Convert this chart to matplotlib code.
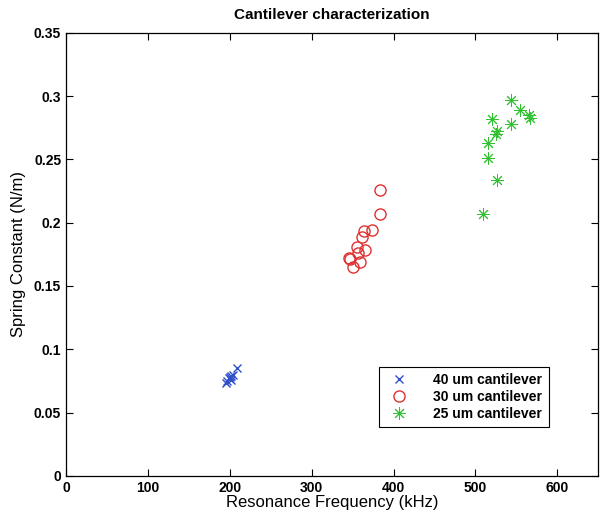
import numpy as np
import matplotlib
matplotlib.use('Agg')
import matplotlib.pyplot as plt

# resonance frequency (kHz) and spring constant (N/m)
f40 = [195, 197, 199, 200, 201, 202, 204, 209]
k40 = [0.073, 0.075, 0.077, 0.078, 0.076, 0.079, 0.080, 0.085]

f30 = [384, 384, 374, 364, 362, 355, 365, 357, 346, 347, 359, 351]
k30 = [0.226, 0.207, 0.194, 0.193, 0.189, 0.181, 0.178, 0.176, 0.172, 0.171, 0.169, 0.165]

f25 = [509, 515, 516, 520, 525, 527, 527, 543, 543, 555, 565, 567]
k25 = [0.207, 0.251, 0.263, 0.282, 0.270, 0.272, 0.234, 0.278, 0.297, 0.289, 0.285, 0.283]

labels = ['40 um cantilever', '30 um cantilever', '25 um cantilever']

plt.rcParams['font.family'] = ['Liberation Sans', 'DejaVu Sans']

fig = plt.figure(figsize=(6, 5.2), dpi=100)
ax = fig.add_axes([0.11, 0.085, 0.887, 0.852])

asterisk = (8, 2, 0)  # matlab style '*'
ax.plot(f40, k40, 'x', color='#3050c8', ms=6, mew=1, label=labels[0])
ax.plot(f30, k30, 'o', color='#e03030', mfc='none', ms=8, mew=1, label=labels[1])
ax.plot(f25, k25, marker=asterisk, ls='none', color='#30c030', ms=9, mew=0.7, label=labels[2])

ax.set_xlim(0, 650)
ax.set_ylim(0, 0.35)
ax.set_xticks(np.arange(0, 601, 100))
ax.set_yticks([0, 0.05, 0.1, 0.15, 0.2, 0.25, 0.3, 0.35])
ax.set_yticklabels(['0', '0.05', '0.1', '0.15', '0.2', '0.25', '0.3', '0.35'])
ax.tick_params(direction='in', top=True, right=True, length=5, labelsize=10)
for lab in ax.get_xticklabels() + ax.get_yticklabels():
    lab.set_fontweight('bold')
for sp in ax.spines.values():
    sp.set_linewidth(0.9)

ax.set_xlabel('Resonance Frequency (kHz)', fontsize=12, labelpad=0)
ax.set_ylabel('Spring Constant (N/m)', fontsize=12, labelpad=6)
ax.set_title('Cantilever characterization', fontsize=11, fontweight='bold', pad=10)

leg = ax.legend(loc='lower right', bbox_to_anchor=(0.92, 0.095), fancybox=False,
                edgecolor='black', framealpha=1, prop={'weight': 'bold', 'size': 10},
                handletextpad=1.5, borderpad=0.45, labelspacing=0.2)
leg.get_frame().set_linewidth(0.8)

fig.savefig('out.png', dpi=100)
